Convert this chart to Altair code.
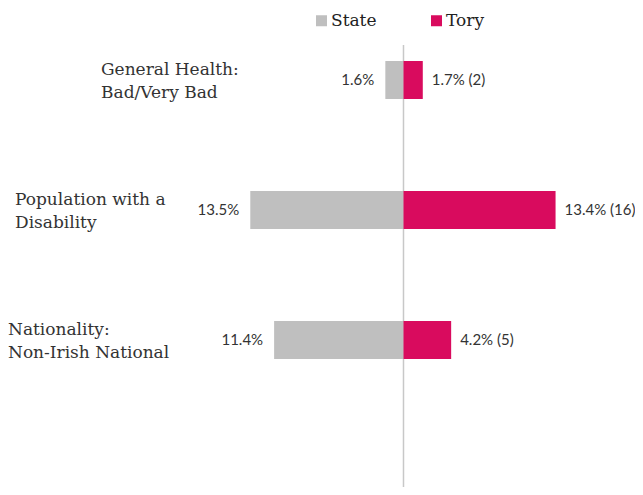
import altair as alt
import pandas as pd

categories = ["General Health:\nBad/Very Bad", "Population with a\nDisability", "Nationality:\nNon-Irish National"]
state_values = [1.6, 13.5, 11.4]
tory_values = [1.7, 13.4, 4.2]
tory_counts = [2, 16, 5]
series = ["State", "Tory"]
colors = ["#BFBFBF", "#D90B5E"]

rows = []
for c, s, t, n in zip(categories, state_values, tory_values, tory_counts):
    rows.append({"category": c, "series": "State", "signed": -s, "label": f"{s:.1f}%"})
    rows.append({"category": c, "series": "Tory", "signed": t, "label": f"{t:.1f}% ({n})"})
df = pd.DataFrame(rows)
cat_df = pd.DataFrame({"category": categories, "idx": list(range(len(categories)))})

xs = alt.Scale(domain=[-34.85, 20.40], nice=False, zero=False)
ys = alt.Scale(domain=categories, range=[7, 397], paddingInner=0.708, paddingOuter=0.354)

base = alt.Chart(df)

rule = alt.Chart(pd.DataFrame({"x": [0]})).mark_rule(color="#C8C8C8", strokeWidth=1.5).encode(
    x=alt.X("x:Q", scale=xs, axis=None), y=alt.value(37), y2=alt.value(479)
)

bars = base.mark_bar().encode(
    x=alt.X("signed:Q", scale=xs, axis=None),
    x2=alt.datum(0),
    y=alt.Y("category:N", scale=ys, axis=None),
    color=alt.Color(
        "series:N",
        scale=alt.Scale(domain=series, range=colors),
        legend=alt.Legend(
            title=None, orient="none", legendX=305, legendY=4, direction="horizontal",
            symbolType="square", symbolSize=121, symbolStrokeWidth=0,
            labelFont="DejaVu Serif", labelFontSize=17, labelColor="#222222",
            labelOffset=1, columnPadding=51,
        ),
    ),
)

state_text = base.transform_filter(alt.datum.series == "State").mark_text(
    align="right", baseline="middle", dx=-11, font="Lato", fontSize=15, color="#333333"
).encode(x=alt.X("signed:Q", scale=xs), y=alt.Y("category:N", scale=ys), text="label:N")

tory_text = base.transform_filter(alt.datum.series == "Tory").mark_text(
    align="left", baseline="middle", dx=9, font="Lato", fontSize=15, color="#333333"
).encode(x=alt.X("signed:Q", scale=xs), y=alt.Y("category:N", scale=ys), text="label:N")

label_x = [93, 7, 0]
cat_layers = []
for i, lx in enumerate(label_x):
    cat_layers.append(
        alt.Chart(cat_df).transform_filter(alt.datum.idx == i).mark_text(
            align="left", baseline="middle", lineBreak="\n", lineHeight=23, dy=-10,
            font="DejaVu Serif", fontSize=17, color="#333333"
        ).encode(x=alt.value(lx), y=alt.Y("category:N", scale=ys), text="category:N")
    )

chart = alt.layer(rule, bars, state_text, tory_text, *cat_layers).properties(
    width=627, height=479, padding=0, autosize=alt.AutoSizeParams(type="none")
).configure_view(stroke=None)

chart.save("out.html", embed_options={"renderer": "svg", "actions": False})
